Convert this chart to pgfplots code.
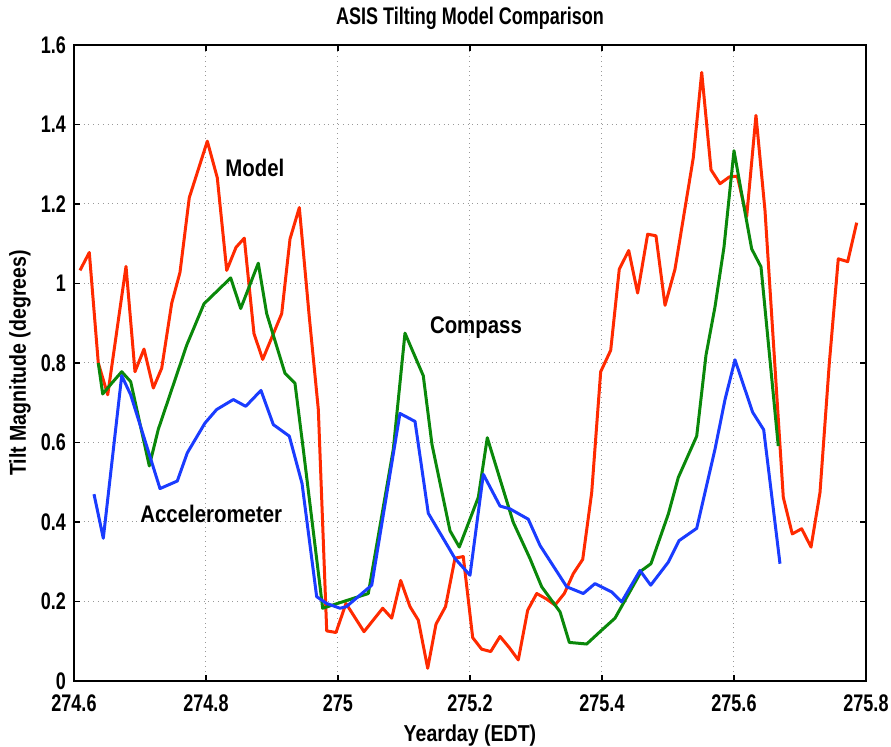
\documentclass[border=0pt]{standalone}
\usepackage{fontspec}
\setmainfont{Liberation Sans}[FakeStretch=0.85]
\newfontfamily\tickfont{Liberation Sans}[FakeStretch=0.75]
\usepackage{pgfplots}
\pgfplotsset{compat=1.18}
\definecolor{modelred}{HTML}{FF2A00}
\definecolor{compgreen}{HTML}{0A880A}
\definecolor{accblue}{HTML}{1A3CFF}

\begin{document}
\begin{tikzpicture}
\useasboundingbox (-37pt,-33pt) rectangle (408.5pt,340.5pt);
\begin{axis}[at={(0,0)}, anchor=south west,
  scale only axis, width=396pt, height=318pt,
  xmin=274.6, xmax=275.8, ymin=0, ymax=1.6,
  xtick={274.6,274.8,...,275.81}, ytick={0,0.2,...,1.61},
  /pgf/number format/assume math mode=true,
  tick label style={font=\tickfont\fontsize{12}{14}\selectfont\bfseries},
  xticklabel style={yshift=-3.5pt},
  yticklabel style={xshift=-0.5pt},
  tick align=inside, major tick length=3pt,
  major tick style={black, line width=0.8pt},
  axis line style={line width=1pt},
  grid=major, grid style={dotted, gray!80, line width=0.5pt},
  every axis title/.style={at={(axis description cs:0.5,1)}, yshift=13.5pt, anchor=center,
    font=\tickfont\fontsize{12}{14}\selectfont\bfseries},
  every axis x label/.style={at={(axis description cs:0.5,0)}, yshift=-27.5pt, anchor=center,
    font=\fontsize{11.5}{13}\selectfont\bfseries},
  every axis y label/.style={at={(axis description cs:0,0.5)}, xshift=-27pt, anchor=center, rotate=90,
    font=\fontsize{11.5}{13}\selectfont\bfseries},
  title={ASIS Tilting Model Comparison},
  xlabel={Yearday (EDT)}, ylabel={Tilt Magnitude (degrees)},
  every axis plot/.append style={line width=1.5pt, line join=round, mark=none}]

% Model
\addplot[modelred] coordinates {
(274.6091,1.033) (274.6232,1.078) (274.6368,0.800) (274.6511,0.720) (274.6788,1.043)
(274.6924,0.778) (274.7061,0.835) (274.7202,0.737) (274.7329,0.787) (274.7480,0.950)
(274.7606,1.028) (274.7747,1.216) (274.8020,1.358) (274.8171,1.266) (274.8314,1.033)
(274.8455,1.091) (274.8580,1.114) (274.8727,0.874) (274.8859,0.809) (274.9147,0.924)
(274.9273,1.112) (274.9414,1.191) (274.9565,0.916) (274.9702,0.683) (274.9829,0.126)
(274.9970,0.122) (275.0121,0.195) (275.0394,0.124) (275.0677,0.183) (275.0814,0.158)
(275.0950,0.253) (275.1091,0.187) (275.1217,0.153) (275.1359,0.032) (275.1485,0.143)
(275.1629,0.187) (275.1773,0.309) (275.1898,0.313) (275.2041,0.109) (275.2177,0.080)
(275.2314,0.074) (275.2455,0.112) (275.2595,0.084) (275.2732,0.053) (275.2874,0.178)
(275.3011,0.220) (275.3152,0.207) (275.3288,0.191) (275.3429,0.220) (275.3565,0.270)
(275.3708,0.306) (275.3844,0.474) (275.3980,0.778) (275.4132,0.832) (275.4262,1.036)
(275.4405,1.083) (275.4540,0.976) (275.4692,1.124) (275.4818,1.120) (275.4955,0.945)
(275.5106,1.036) (275.5383,1.316) (275.5511,1.531) (275.5652,1.286) (275.5788,1.251)
(275.5929,1.268) (275.6050,1.270) (275.6192,1.168) (275.6333,1.423) (275.6470,1.183)
(275.6747,0.462) (275.6883,0.370) (275.7025,0.383) (275.7167,0.337) (275.7303,0.474)
(275.7444,0.799) (275.7580,1.062) (275.7723,1.055) (275.7859,1.153)
};

% Compass
\addplot[compgreen] coordinates {
(274.6368,0.800) (274.6435,0.722) (274.6571,0.749) (274.6723,0.778) (274.6859,0.753)
(274.7141,0.541) (274.7277,0.633) (274.7708,0.845) (274.7970,0.949) (274.8374,1.014)
(274.8526,0.937) (274.8792,1.051) (274.8920,0.924) (274.9197,0.774) (274.9348,0.749)
(274.9474,0.583) (274.9768,0.183) (275.0459,0.220) (275.0838,0.583) (275.1015,0.875)
(275.1292,0.768) (275.1424,0.595) (275.1697,0.378) (275.1838,0.337) (275.2126,0.462)
(275.2262,0.612) (275.2656,0.399) (275.2909,0.308) (275.3086,0.237) (275.3364,0.174)
(275.3505,0.097) (275.3768,0.093) (275.3970,0.124) (275.4197,0.158) (275.4602,0.278)
(275.4742,0.295) (275.5005,0.420) (275.5156,0.512) (275.5435,0.616) (275.5576,0.820)
(275.5712,0.941) (275.5848,1.091) (275.6000,1.334) (275.6141,1.203) (275.6268,1.087)
(275.6409,1.042) (275.6671,0.591)
};

% Accelerometer
\addplot[accblue] coordinates {
(274.6303,0.470) (274.6444,0.359) (274.6723,0.768) (274.6859,0.720) (274.7303,0.484)
(274.7565,0.503) (274.7717,0.574) (274.7985,0.649) (274.8162,0.683) (274.8414,0.708)
(274.8602,0.691) (274.8833,0.731) (274.9020,0.645) (274.9262,0.616) (274.9455,0.497)
(274.9677,0.212) (274.9829,0.195) (275.0030,0.183) (275.0127,0.187) (275.0511,0.241)
(275.0939,0.673) (275.1167,0.653) (275.1368,0.422) (275.1671,0.337) (275.1773,0.308)
(275.2000,0.266) (275.2202,0.520) (275.2455,0.440) (275.2606,0.433) (275.2883,0.407)
(275.3061,0.341) (275.3465,0.237) (275.3717,0.220) (275.3894,0.245) (275.4147,0.224)
(275.4298,0.199) (275.4576,0.278) (275.4738,0.241) (275.5005,0.299) (275.5167,0.353)
(275.5435,0.384) (275.5712,0.583) (275.5864,0.708) (275.6015,0.808) (275.6283,0.676)
(275.6450,0.632) (275.6697,0.295)
};

\node[font=\fontsize{12}{14}\selectfont\bfseries] at (axis cs:274.874,1.29) {Model};
\node[font=\fontsize{12}{14}\selectfont\bfseries] at (axis cs:275.209,0.888) {Compass};
\node[font=\fontsize{12}{14}\selectfont\bfseries] at (axis cs:274.808,0.42) {Accelerometer};
\end{axis}
\end{tikzpicture}
\end{document}
